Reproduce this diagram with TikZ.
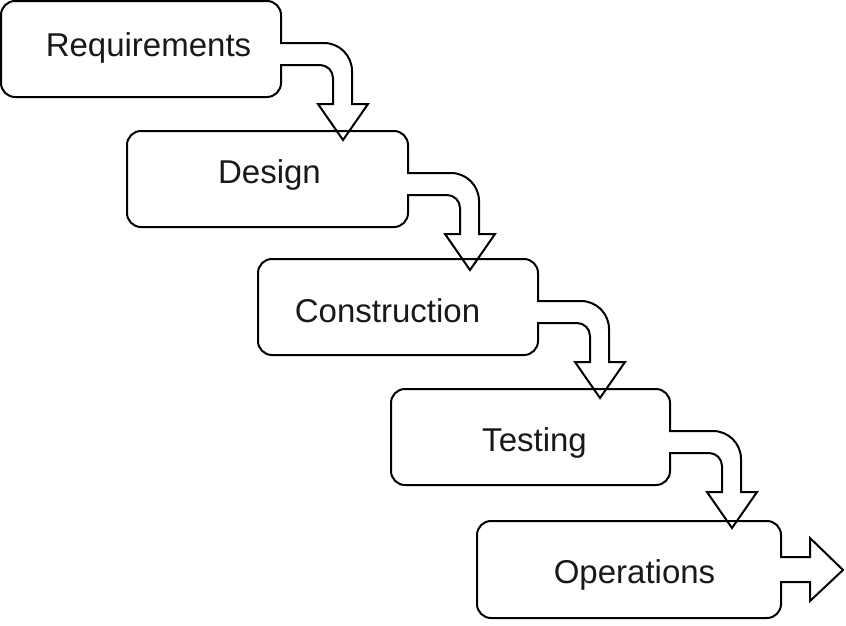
\documentclass[tikz,border=0pt]{standalone}
\usepackage{fontspec}
\setmainfont{Liberation Sans}
\begin{document}
\begin{tikzpicture}[x=1pt,y=-1pt,
  box/.style={draw=black, line width=2pt, rounded corners=14pt, anchor=north west,
              inner sep=0pt, outer sep=0pt, minimum height=96pt},
  lbl/.style={anchor=base, inner sep=0pt, font=\fontsize{33pt}{36pt}\selectfont, text=black!90},
  arrline/.style={draw=black, line width=2pt, line join=miter, line cap=butt}]
\useasboundingbox (0,0) rectangle (846,625);

\newcommand\wfdown[1]{%
  \begin{scope}[shift={(#1.north east)}]
    \fill[white] (-1.6,42) -- (43,42) arc[start angle=-90,end angle=0,radius=28] -- (71,103)
      -- (87,103) -- (62,139) -- (37,103) -- (52,103) -- (52,77)
      arc[start angle=0,end angle=-90,radius=13] -- (-1.6,64) -- cycle;
    \draw[arrline] (-1,42) -- (43,42) arc[start angle=-90,end angle=0,radius=28] -- (71,103)
      -- (87,103) -- (62,139) -- (37,103) -- (52,103) -- (52,77)
      arc[start angle=0,end angle=-90,radius=13] -- (-1,64);
  \end{scope}}

\node[box, minimum width=280pt] (b1) at (1,1) {};
\wfdown{b1}
\node[box, minimum width=281pt] (b2) at (127,131) {};
\wfdown{b2}
\node[box, minimum width=280pt] (b3) at (258,259) {};
\wfdown{b3}
\node[box, minimum width=279pt] (b4) at (391,389) {};
\wfdown{b4}
\node[box, minimum width=304pt, minimum height=97pt] (b5) at (477,521) {};
\begin{scope}[shift={(b5.north east)}]
  \fill[white] (-1.6,36) -- (29,36) -- (29,17) -- (62,49) -- (29,80) -- (29,61) -- (-1.6,61) -- cycle;
  \draw[arrline] (-1,36) -- (29,36) -- (29,17) -- (62,49) -- (29,80) -- (29,61) -- (-1,61);
\end{scope}

\node[lbl] (t1) at (148.5,56) {Requirements};
\node[lbl] (t2) at (269.5,183) {Design};
\node[lbl] (t3) at (387.5,322) {Construction};
\node[lbl] (t4) at (534.5,451) {Testing};
\node[lbl] (t5) at (634.5,583) {Operations};
\end{tikzpicture}
\end{document}
